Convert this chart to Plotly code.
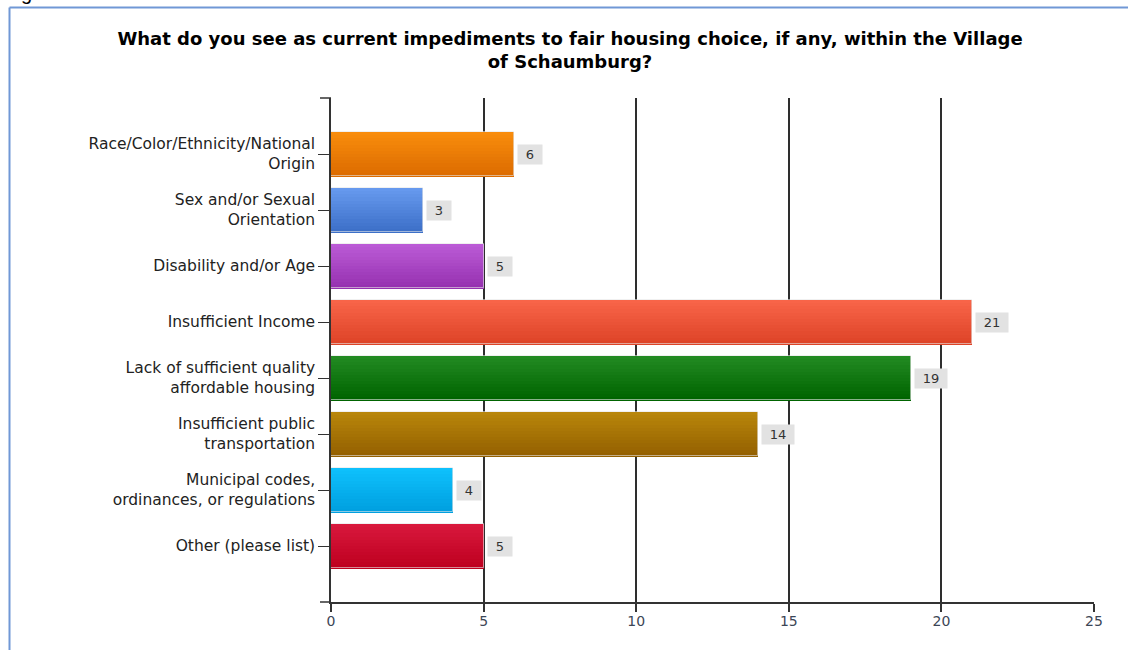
import plotly.graph_objects as go

categories = [
    "Race/Color/Ethnicity/National<br>Origin",
    "Sex and/or Sexual<br>Orientation",
    "Disability and/or Age",
    "Insufficient Income",
    "Lack of sufficient quality<br>affordable housing",
    "Insufficient public<br>transportation",
    "Municipal codes,<br>ordinances, or regulations",
    "Other (please list)",
]
values = [6, 3, 5, 21, 19, 14, 4, 5]
top_colors = ["#f88c0c", "#6699ee", "#bb5ad6", "#f86448", "#228a22", "#b8860b", "#0ec0fc", "#d8183c"]
bottom_colors = ["#dd6c00", "#3d70c8", "#9632b0", "#de4428", "#006400", "#946000", "#00a0e0", "#be0020"]
x_ticks = [0, 5, 10, 15, 20, 25]
title_text = ("What do you see as current impediments to fair housing choice, if any, within the Village"
              "<br>of Schaumburg?")

PLOT_L, PLOT_R, PLOT_T, PLOT_B = 331, 1094, 98, 602
W, H = 1128, 650
pw, ph = PLOT_R - PLOT_L, PLOT_B - PLOT_T


def px_x(p):
    return (p - PLOT_L) / pw


def px_y(p):
    return (PLOT_B - p) / ph


def hex2rgb(h):
    h = h.lstrip("#")
    return tuple(int(h[i:i + 2], 16) for i in (0, 2, 4))


def mix(c1, c2, t):
    a, b = hex2rgb(c1), hex2rgb(c2)
    return "rgb(%d,%d,%d)" % tuple(round(a[i] + (b[i] - a[i]) * t) for i in range(3))


fig = go.Figure()

BAR_W = 0.79
N = 14
step = BAR_W / N
for k in range(N):
    t = k / (N - 1)
    fig.add_trace(go.Bar(
        x=values, y=list(range(len(categories))), orientation="h",
        base=0, width=step * 1.15, offset=-BAR_W / 2 + k * step,
        marker=dict(color=[mix(tc, bc, t) for tc, bc in zip(top_colors, bottom_colors)], line=dict(width=0)),
        showlegend=False, hoverinfo="skip",
    ))
# outline
fig.add_trace(go.Bar(
    x=values, y=list(range(len(categories))), orientation="h",
    base=0, width=BAR_W, offset=-BAR_W / 2,
    marker=dict(color="rgba(0,0,0,0)", line=dict(width=1, color="rgba(230,230,230,0.6)")),
    showlegend=False, hoverinfo="skip",
))

annotations = []
for i, v in enumerate(values):
    s = str(v)
    annotations.append(dict(
        x=v, y=i, xref="x", yref="y", text=s, showarrow=False,
        xanchor="left", yanchor="middle", xshift=3,
        bgcolor="#e2e2e2", width=14 + 8 * len(s), height=17, borderpad=1,
        font=dict(family="DejaVu Sans", size=13, color="#333333"),
    ))

# cut-off glyph at the top-left corner of the page
annotations.append(dict(
    x=px_x(26), y=px_y(6), xref="paper", yref="paper", text="g", showarrow=False,
    xanchor="center", yanchor="bottom", font=dict(family="Liberation Sans", size=20, color="#000"),
))

shapes = [
    # page frame
    dict(type="line", xref="paper", yref="paper", x0=px_x(9.5), x1=px_x(W + 5), y0=px_y(7.5), y1=px_y(7.5),
         line=dict(color="#7098d6", width=2)),
    dict(type="line", xref="paper", yref="paper", x0=px_x(9.5), x1=px_x(9.5), y0=px_y(7.5), y1=px_y(H + 5),
         line=dict(color="#7098d6", width=2)),
    # axis extensions
    dict(type="line", xref="paper", yref="paper", x0=px_x(320), x1=0, y0=0, y1=0,
         line=dict(color="#333", width=1.5)),
    dict(type="line", xref="paper", yref="paper", x0=px_x(320), x1=0, y0=1, y1=1,
         line=dict(color="#333", width=1.5)),
]

fig.update_layout(
    width=W, height=H,
    margin=dict(l=PLOT_L, r=W - PLOT_R, t=PLOT_T, b=H - PLOT_B),
    paper_bgcolor="white", plot_bgcolor="white",
    barmode="overlay", bargap=0,
    title=dict(text=title_text, x=570 / W, xref="container", xanchor="center",
               y=1 - 45 / H, yref="container", yanchor="top",
               font=dict(family="DejaVu Sans", size=18, color="#000", weight="bold")),
    xaxis=dict(range=[0, 25], tickvals=x_ticks, showgrid=True, gridcolor="#2e2e2e", gridwidth=1.6,
               zeroline=False, showline=True, linecolor="#333", linewidth=1.5,
               ticks="outside", ticklen=8, tickcolor="#333", tickwidth=1.6, ticklabelstandoff=-3,
               tickfont=dict(family="DejaVu Sans", size=14, color="#3c4656")),
    yaxis=dict(range=[len(categories), -1], tickvals=list(range(len(categories))), ticktext=categories,
               showgrid=False, zeroline=False, showline=True, linecolor="#333", linewidth=1.5,
               ticks="outside", ticklen=11, tickcolor="#333", tickwidth=1.2,
               tickfont=dict(family="DejaVu Sans", size=15.5, color="#222")),
    annotations=annotations, shapes=shapes,
)

fig.write_html("out.html", config={"displayModeBar": False},
               post_script="document.body.style.margin='0';")
